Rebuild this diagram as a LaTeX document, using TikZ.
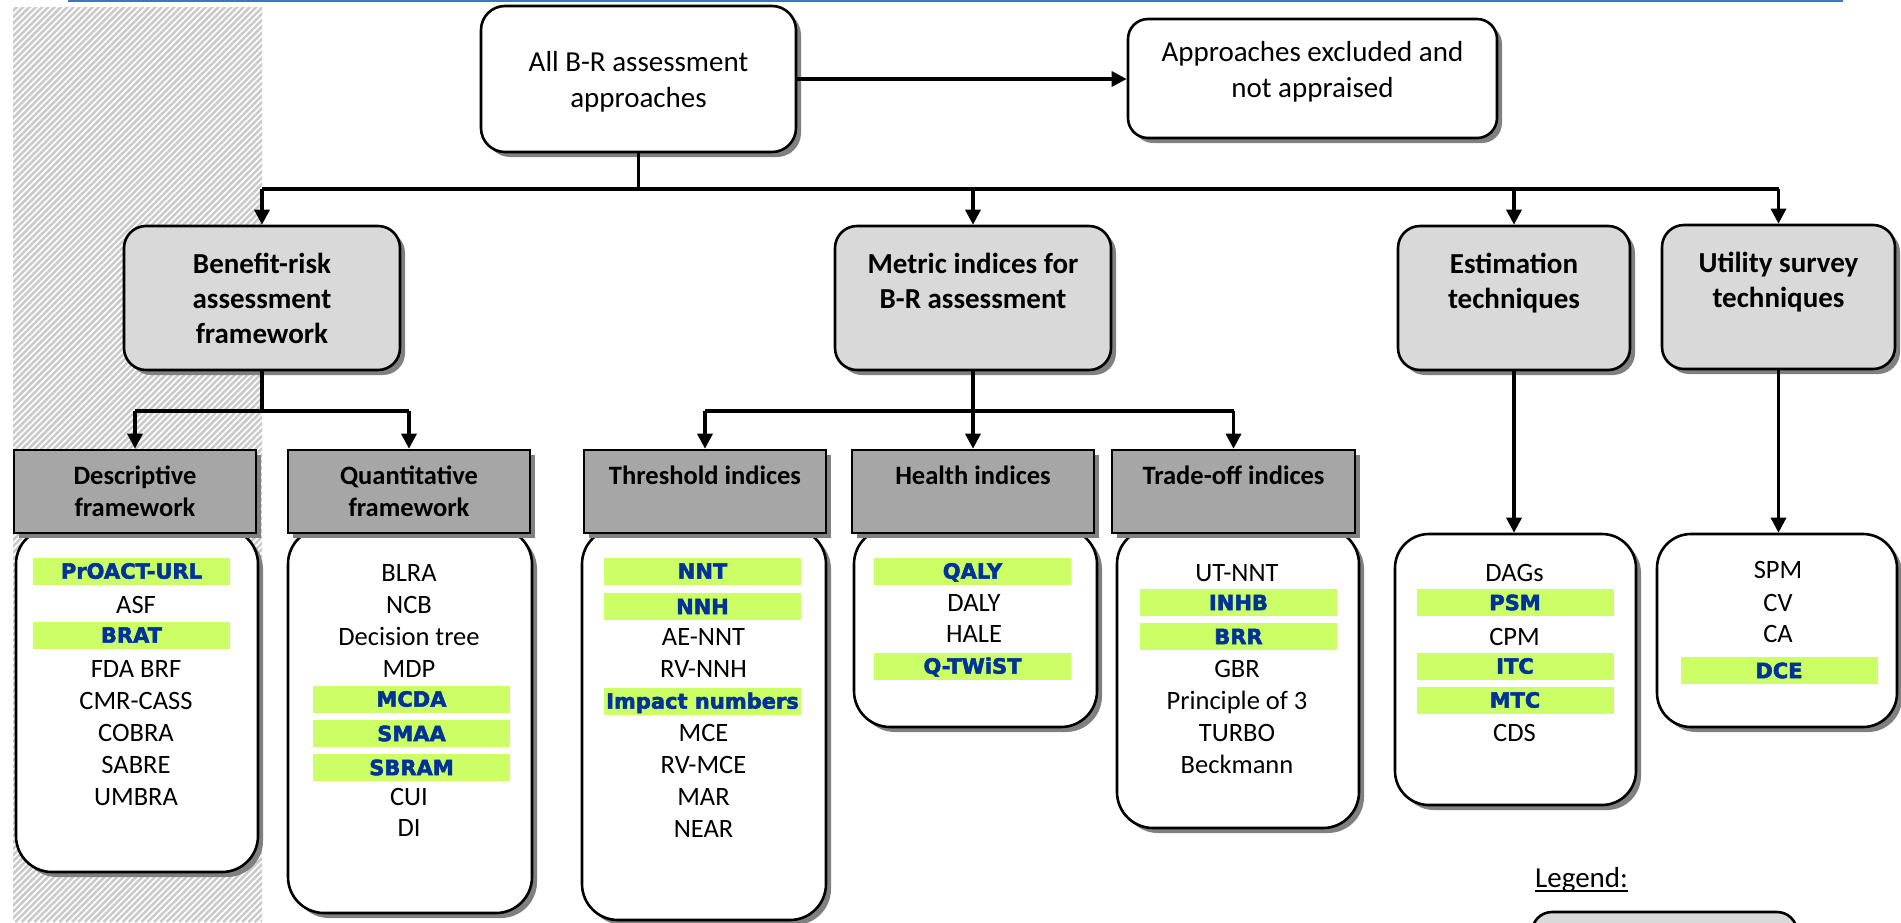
\documentclass[tikz,border=0pt]{standalone}
\usepackage{fontspec}
\setmainfont{Carlito}
\newfontfamily\hifont{DejaVu Sans Bold}[FakeBold=2.5]
\usetikzlibrary{arrows.meta,shadows}

\definecolor{hlgreen}{HTML}{CCFF66}
\definecolor{hlblue}{HTML}{003399}
\definecolor{rulblue}{HTML}{4472C4}
\definecolor{hatchgray}{HTML}{CACACA}
\definecolor{lvltwo}{HTML}{D9D9D9}
\definecolor{lvlthree}{HTML}{A6A6A6}

\newcommand\topfont{\fontsize{29}{36}\selectfont}
\newcommand\hdfont{\fontsize{29}{35}\selectfont\bfseries}
\newcommand\subhdfont{\fontsize{26.5}{32}\selectfont\bfseries}
\newcommand\itemfont{\fontsize{26.5}{32}\selectfont}
\newcommand\hlfont{\hifont\fontsize{21}{26}\selectfont}

\tikzset{
  conn/.style={line width=3.3pt, draw=black},
  arrowed/.style={-{Triangle[length=15pt,width=15pt]}},
  boxshadow/.style={drop shadow={shadow xshift=5pt, shadow yshift=-5pt, fill=black!50, opacity=1}},
  topbox/.style={draw=black, line width=2.6pt, fill=white, rounded corners=24pt,
    boxshadow, align=center, font=\topfont, inner sep=0pt},
  lvtwo/.style={draw=black, line width=2.6pt, fill=lvltwo, rounded corners=22pt,
    boxshadow, align=center, font=\hdfont, inner sep=0pt},
  lvthree/.style={draw=black, line width=2.6pt, fill=lvlthree, boxshadow,
    align=center, font=\subhdfont, inner sep=0pt, minimum width=242pt, minimum height=83pt},
  cbox/.style={draw=black, line width=2.6pt, fill=white, rounded corners=36pt,
    boxshadow, inner sep=0pt},
  item/.style={font=\itemfont, text height=16.7pt, text depth=0pt, inner sep=0pt},
  hl/.style={fill=hlgreen, minimum width=197pt, minimum height=27pt, inner sep=0pt,
    font=\hlfont, text=hlblue, text height=15.3pt, text depth=0pt},
  hatch/.style={line width=2.5pt, draw=hatchgray}
}

\begin{document}
\begin{tikzpicture}[x=1pt,y=-1pt]
\useasboundingbox (0,0) rectangle (1901,922);
\fill[white] (0,0) rectangle (1901,922);

% striped band on the left
\begin{scope}
  \clip (13,7) rectangle (262,922);
  \foreach \k in {0,...,190}
    \draw[hatch] ({13+\k*6.3-930},922) -- ++(940,-940);
\end{scope}

% rule along the top edge
\draw[line width=2.2pt, rulblue] (68,1.1) -- (1843,1.1);

% top level
\node[topbox, minimum width=315pt, minimum height=146pt] (top) at (638.5,79)
  {All B-R assessment\\\smash{approaches}};
\node[topbox, rounded corners=20pt, minimum width=369pt, minimum height=119pt] (excl) at (1312.5,78.5)
  {Approaches excluded and\\not appraised\rule[-17.7pt]{0pt}{17.7pt}};

% second level
\node[lvtwo, minimum width=276pt, minimum height=144pt] (br) at (262,298)
  {Benefit-risk\\assessment\\framework};
\node[lvtwo, minimum width=276pt, minimum height=144pt] (metric) at (973,298)
  {Metric indices for\\B-R assessment\\\mbox{}};
\node[lvtwo, minimum width=232pt, minimum height=144pt] (est) at (1514,298)
  {Estimation\\techniques\\\mbox{}};
\node[lvtwo, minimum width=233pt, minimum height=144pt] (util) at (1778.5,297)
  {Utility survey\\techniques\\\mbox{}};

% content boxes
\node[cbox, minimum width=242pt, minimum height=344pt] (descC) at (137,700) {};
\node[cbox, minimum width=244pt, minimum height=385pt] (quantC) at (410,720.5) {};
\node[cbox, minimum width=244pt, minimum height=392pt] (thrC) at (704,724) {};
\node[cbox, minimum width=243pt, minimum height=199pt] (healthC) at (975.5,627.5) {};
\node[cbox, minimum width=242pt, minimum height=300pt] (tradeC) at (1238,678) {};
\node[cbox, rounded corners=34pt, minimum width=241pt, minimum height=271pt] (estC) at (1515.5,669.5) {};
\node[cbox, rounded corners=34pt, minimum width=240pt, minimum height=193pt] (utilC) at (1777,630.5) {};

% third level headers
\node[lvthree] (desc) at (135,491.5) {Descriptive\\framework};
\node[lvthree] (quant) at (409,491.5) {Quantitative\\framework};
\node[lvthree] (thr) at (705,491.5) {Threshold indices\\\mbox{}};
\node[lvthree] (health) at (973,491.5) {Health indices\\\mbox{}};
\node[lvthree, minimum width=243pt] (trade) at (1233.5,491.5) {Trade-off indices\\\mbox{}};

% descriptive framework
\node[hl] (d1) at (131.5,571) {PrOACT-URL};
\node[item] (d2) at (136,605) {ASF};
\node[hl] (d3) at (131.5,635) {BRAT};
\node[item] (d4) at (136,669) {FDA BRF};
\node[item] (d5) at (136,701) {CMR-CASS};
\node[item] (d6) at (136,733) {COBRA};
\node[item] (d7) at (136,765) {SABRE};
\node[item] (d8) at (136,797) {UMBRA};

% quantitative framework
\node[item] (q1) at (409,573) {BLRA};
\node[item] (q2) at (409,605) {NCB};
\node[item] (q3) at (409,637) {Decision tree};
\node[item] (q4) at (409,669) {MDP};
\node[hl] (q5) at (411.5,699) {MCDA};
\node[hl] (q6) at (411.5,733.5) {SMAA};
\node[hl] (q7) at (411.5,767.5) {SBRAM};
\node[item] (q8) at (409,797) {CUI};
\node[item] (q9) at (409,828) {DI};

% threshold indices
\node[hl] (t1) at (702.5,571) {NNT};
\node[hl] (t2) at (702.5,606.5) {NNH};
\node[item] (t3) at (703.5,637) {AE-NNT};
\node[item] (t4) at (703.5,669) {RV-NNH};
\node[hl] (t5) at (702.5,701) {Impact numbers};
\node[item] (t6) at (703.5,733) {MCE};
\node[item] (t7) at (703.5,765) {RV-MCE};
\node[item] (t8) at (703.5,797) {MAR};
\node[item] (t9) at (703.5,829) {NEAR};

% health indices
\node[hl] (h1) at (972.5,571) {QALY};
\node[item] (h2) at (974,603) {DALY};
\node[item] (h3) at (974,634.5) {HALE};
\node[hl] (h4) at (972.5,666) {Q-TWiST};

% trade-off indices
\node[item] (o1) at (1237,573) {UT-NNT};
\node[hl] (o2) at (1238.5,602.5) {INHB};
\node[hl] (o3) at (1238.5,636.5) {BRR};
\node[item] (o4) at (1237,669) {GBR};
\node[item] (o5) at (1237,701) {Principle of 3};
\node[item] (o6) at (1237,733) {TURBO};
\node[item] (o7) at (1237,765) {Beckmann};

% estimation techniques
\node[item] (e1) at (1514.5,573) {DAGs};
\node[hl] (e2) at (1515,602.5) {PSM};
\node[item] (e3) at (1514.5,637) {CPM};
\node[hl] (e4) at (1515,666) {ITC};
\node[hl] (e5) at (1515,700) {MTC};
\node[item] (e6) at (1514.5,733) {CDS};

% utility survey techniques
\node[item] (u1) at (1778,570) {SPM};
\node[item] (u2) at (1778,603) {CV};
\node[item] (u3) at (1778,634) {CA};
\node[hl] (u4) at (1779,670.5) {DCE};

% legend
\node[font=\topfont, anchor=base west, inner sep=0pt] (legend) at (1535,887) {Legend:};
\draw[line width=1.6pt] ([yshift=-4pt]legend.base west) -- ([yshift=-4pt]legend.base east);
\begin{scope}
  \clip (0,0) rectangle (1901,922);
  \node[lvtwo, rounded corners=20pt, minimum width=265pt, minimum height=60pt] (legendbox) at (1664.5,942) {};
\end{scope}

% connectors
\draw[conn, arrowed] (top.east) -- (top.east -| excl.west);
\coordinate (bus) at (638.5,189);
\draw[conn] (top.south) -- (bus);
\draw[conn] (br.north |- bus) -- (util.north |- bus);
\foreach \n in {br,metric,est,util}
  \draw[conn, arrowed] (\n.north |- bus) -- (\n.north);

\coordinate (brfork) at (262,411);
\draw[conn] (br.south) -- (brfork);
\draw[conn] (desc.north |- brfork) -- (quant.north |- brfork);
\foreach \n in {desc,quant}
  \draw[conn, arrowed] (\n.north |- brfork) -- (\n.north);

\coordinate (mfork) at (973,411);
\draw[conn] (metric.south) -- (mfork);
\draw[conn] (thr.north |- mfork) -- (trade.north |- mfork);
\foreach \n in {thr,health,trade}
  \draw[conn, arrowed] (\n.north |- mfork) -- (\n.north);

\draw[conn, arrowed] (est.south) -- (est.south |- estC.north);
\draw[conn, arrowed] (util.south) -- (util.south |- utilC.north);
\end{tikzpicture}
\end{document}
